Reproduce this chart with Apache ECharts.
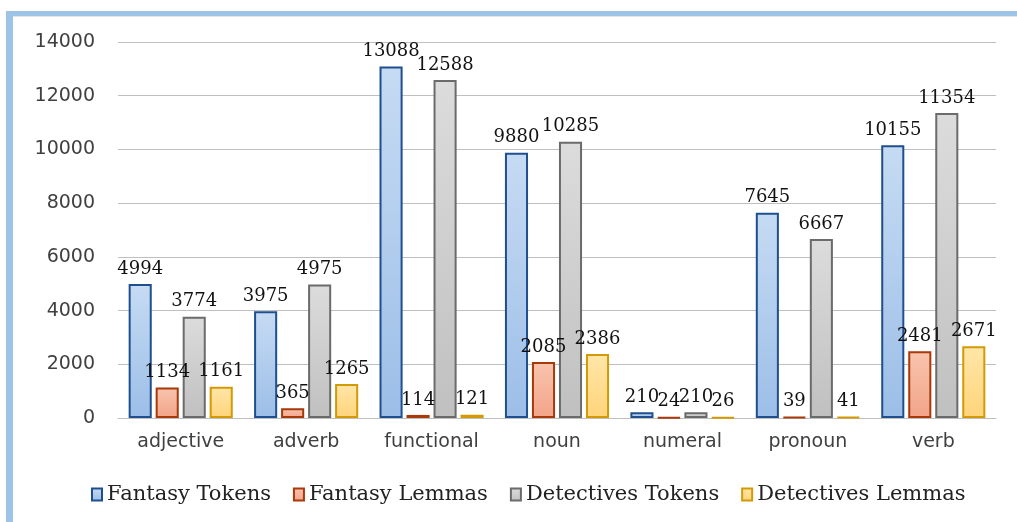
<!DOCTYPE html>
<html>

<head>
    <meta charset="utf-8">
    <script type="text/javascript" src="https://cdn.jsdelivr.net/npm/echarts@6/dist/echarts.min.js"></script>
</head>

<body style="margin: 0">
    <div id="container" style="height: 522px; width: 1017px; background: #fff;"></div>
    <script type="text/javascript">
    // parts of speech
    var categories = ['adjective', 'adverb', 'functional', 'noun', 'numeral', 'pronoun', 'verb'];

    var fantasyTokens = [4994, 3975, 13088, 9880, 210, 7645, 10155];
    var fantasyLemmas = [1134, 365, 114, 2085, 24, 39, 2481];
    var detectivesTokens = [3774, 4975, 12588, 10285, 210, 6667, 11354];
    var detectivesLemmas = [1161, 1265, 121, 2386, 26, 41, 2671];

    var seriesNames = ['Fantasy Tokens', 'Fantasy Lemmas', 'Detectives Tokens', 'Detectives Lemmas'];

    var yMin = 0, yMax = 14000, yStep = 2000;

    // fill top, fill bottom, border
    var palette = [
        ['#c6dbf3', '#9cbee7', '#1f4f8f'],
        ['#f9c4ae', '#f2a488', '#a8390b'],
        ['#dcdcdc', '#c0c0c0', '#6b6b6b'],
        ['#ffe6a8', '#ffd47b', '#d39a06']
    ];

    function grad(c) {
        return new echarts.graphic.LinearGradient(0, 0, 0, 1, [
            { offset: 0, color: c[0] },
            { offset: 1, color: c[1] }
        ]);
    }

    var dom = document.getElementById("container");
    var myChart = echarts.init(dom);

    var allData = [fantasyTokens, fantasyLemmas, detectivesTokens, detectivesLemmas];
    var series = allData.map(function (d, i) {
        return {
            name: seriesNames[i],
            type: 'bar',
            data: d,
            barGap: '17%',
            barCategoryGap: '17%',
            itemStyle: {
                color: grad(palette[i]),
                borderColor: palette[i][2],
                borderWidth: 2
            },
            label: {
                show: true,
                position: 'top',
                distance: 6,
                color: '#111',
                fontFamily: 'DejaVu Serif',
                fontSize: 18
            }
        };
    });

    var option = {
        animation: false,
        graphic: [{
            // light blue frame, top and left
            type: 'rect',
            shape: { x: 6, y: 11, width: 1011, height: 5 },
            style: { fill: '#9dc3e6' }
        }, {
            type: 'rect',
            shape: { x: 6, y: 11, width: 7, height: 511 },
            style: { fill: '#9dc3e6' }
        }, {
            type: 'rect',
            shape: { x: 13, y: 16, width: 1004, height: 1 },
            style: { fill: '#e4e4e4' }
        }],
        grid: {
            left: 118,
            right: 21,
            top: 42,
            bottom: 104
        },
        legend: {
            data: seriesNames,
            left: 86,
            top: 479,
            icon: 'rect',
            itemWidth: 10,
            itemHeight: 12,
            itemGap: 22,
            textStyle: {
                fontFamily: 'DejaVu Serif',
                fontSize: 21,
                color: '#222'
            }
        },
        xAxis: {
            type: 'category',
            data: categories,
            axisTick: { show: false },
            axisLine: { lineStyle: { color: '#bfbfbf', width: 1 } },
            axisLabel: {
                margin: 15,
                fontFamily: 'DejaVu Sans',
                fontSize: 19,
                color: '#404040'
            }
        },
        yAxis: {
            type: 'value',
            min: yMin,
            max: yMax,
            interval: yStep,
            axisLine: { show: false },
            axisTick: { show: false },
            splitLine: { lineStyle: { color: '#bfbfbf', width: 1 } },
            axisLabel: {
                margin: 23,
                fontFamily: 'DejaVu Sans',
                fontSize: 19,
                color: '#404040',
                formatter: function (v) { return String(v); }
            }
        },
        series: series
    };

    myChart.setOption(option);
    </script>
</body>
</html>
